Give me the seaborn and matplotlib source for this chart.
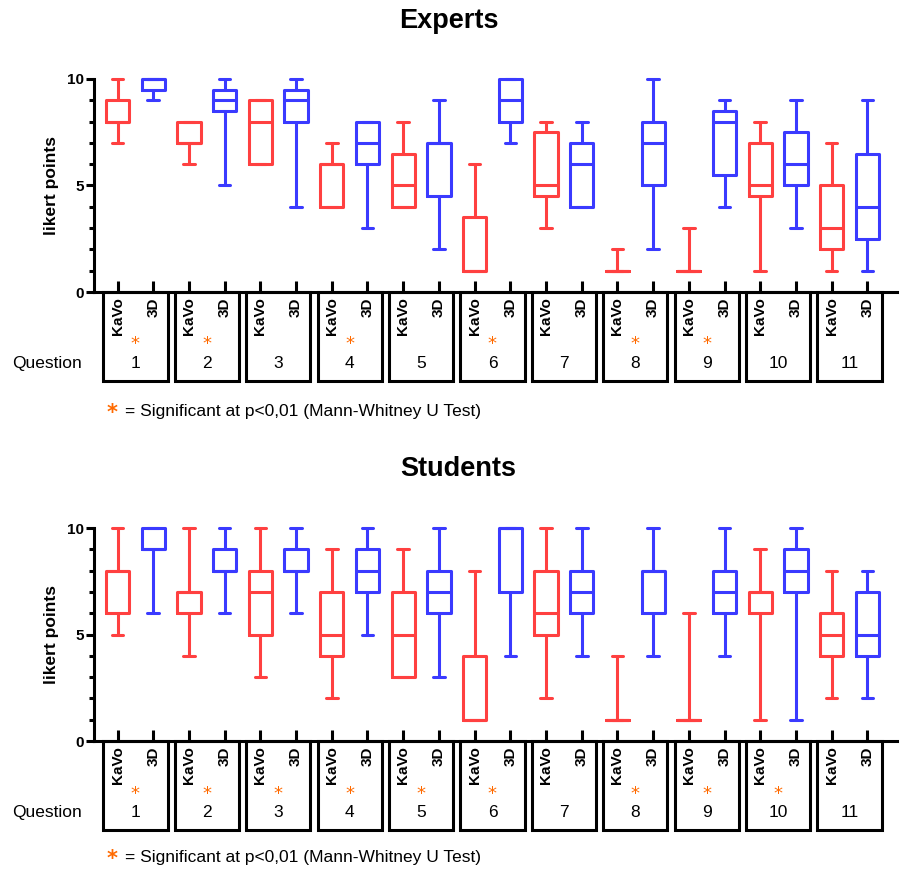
import numpy as np
import pandas as pd
import matplotlib
matplotlib.use("Agg")
import matplotlib.pyplot as plt
import seaborn as sns
from matplotlib.patches import Rectangle
from matplotlib import transforms
from matplotlib.ticker import MultipleLocator

# ---------------- data ----------------
questions = [str(i) for i in range(1, 12)]
groups = ["KaVo", "3D"]

# Experts
exp_kavo_min = [7, 6, 6, 4, 4, 1, 3, 1, 1, 1, 1]
exp_kavo_q1 = [8, 7, 6, 4, 4, 1, 4.5, 1, 1, 4.5, 2]
exp_kavo_med = [8, 7, 8, 6, 5, 1, 5, 1, 1, 5, 3]
exp_kavo_q3 = [9, 8, 9, 6, 6.5, 3.5, 7.5, 1, 1, 7, 5]
exp_kavo_max = [10, 8, 9, 7, 8, 6, 8, 2, 3, 8, 7]
exp_3d_min = [9, 5, 4, 3, 2, 7, 4, 2, 4, 3, 1]
exp_3d_q1 = [9.5, 8.5, 8, 6, 4.5, 8, 4, 5, 5.5, 5, 2.5]
exp_3d_med = [10, 9, 9, 7, 7, 9, 6, 7, 8, 6, 4]
exp_3d_q3 = [10, 9.5, 9.5, 8, 7, 10, 7, 8, 8.5, 7.5, 6.5]
exp_3d_max = [10, 10, 10, 8, 9, 10, 8, 10, 9, 9, 9]
exp_signif = [1, 1, 0, 1, 0, 1, 0, 1, 1, 0, 0]

# Students
stu_kavo_min = [5, 4, 3, 2, 3, 1, 2, 1, 1, 1, 2]
stu_kavo_q1 = [6, 6, 5, 4, 3, 1, 5, 1, 1, 6, 4]
stu_kavo_med = [8, 7, 7, 5, 5, 1, 6, 1, 1, 7, 5]
stu_kavo_q3 = [8, 7, 8, 7, 7, 4, 8, 1, 1, 7, 6]
stu_kavo_max = [10, 10, 10, 9, 9, 8, 10, 4, 6, 9, 8]
stu_3d_min = [6, 6, 6, 5, 3, 4, 4, 4, 4, 1, 2]
stu_3d_q1 = [9, 8, 8, 7, 6, 7, 6, 6, 6, 7, 4]
stu_3d_med = [9, 8, 8, 8, 7, 10, 7, 8, 7, 8, 5]
stu_3d_q3 = [10, 9, 9, 9, 8, 10, 8, 8, 8, 9, 7]
stu_3d_max = [10, 10, 10, 10, 10, 10, 10, 10, 10, 10, 8]
stu_signif = [1, 1, 1, 1, 1, 1, 0, 1, 1, 1, 0]

yticks = [0, 5, 10]
legend_text = "= Significant at p<0,01 (Mann-Whitney U Test)"

RED = "#FF4040"
BLUE = "#3A3AFF"
ORANGE = "#FF6A00"

sns.set_style("ticks")
plt.rcParams["font.family"] = ["Liberation Sans", "DejaVu Sans"]
for key in ("text.color", "axes.labelcolor", "xtick.color", "ytick.color", "axes.edgecolor"):
    plt.rcParams[key] = "black"


def build_frame(kmin, kq1, kmed, kq3, kmax, dmin, dq1, dmed, dq3, dmax):
    rows = []
    for i, q in enumerate(questions):
        for g, stats in (("KaVo", (kmin, kq1, kmed, kq3, kmax)),
                         ("3D", (dmin, dq1, dmed, dq3, dmax))):
            for s in stats:
                rows.append({"pos": f"{q}-{g}", "group": g, "value": s[i]})
    return pd.DataFrame(rows)


order = [f"{q}-{g}" for q in questions for g in groups]

W, H = 901, 871
fig = plt.figure(figsize=(W / 100, H / 100), dpi=100)

panels = [
    ("Experts", build_frame(exp_kavo_min, exp_kavo_q1, exp_kavo_med, exp_kavo_q3, exp_kavo_max,
                            exp_3d_min, exp_3d_q1, exp_3d_med, exp_3d_q3, exp_3d_max),
     exp_signif, 79, 292, 449, 28, 411),
    ("Students", build_frame(stu_kavo_min, stu_kavo_q1, stu_kavo_med, stu_kavo_q3, stu_kavo_max,
                             stu_3d_min, stu_3d_q1, stu_3d_med, stu_3d_q3, stu_3d_max),
     stu_signif, 528, 741, 458, 476, 857),
]

ax_left, ax_right = 94, 897
LW = 2.2

for title, df, signif, top_px, bot_px, title_x, title_base, legend_px in panels:
    ax_h = bot_px - top_px
    ax = fig.add_axes([ax_left / W, 1 - bot_px / H, (ax_right - ax_left) / W, ax_h / H])
    sns.boxplot(data=df, x="pos", y="value", hue="group", order=order, hue_order=groups,
                palette={"KaVo": RED, "3D": BLUE}, dodge=False, fill=False, width=0.65,
                whis=(0, 100), linewidth=LW, legend=False, ax=ax)
    for art in list(ax.lines) + list(ax.patches):
        art.set_clip_on(False)
    ax.set_xlim(-0.66, 21.83)
    ax.set_ylim(0, 10)
    ax.set_yticks(yticks)
    ax.yaxis.set_minor_locator(MultipleLocator(1))
    ax.set_yticklabels([str(t) for t in yticks], fontweight="bold", fontsize=11)
    ax.set_xticks(range(len(order)))
    ax.set_xticklabels([g for q in questions for g in groups], rotation=90,
                       fontweight="bold", fontsize=11, va="top")
    ax.tick_params(axis="x", direction="in", length=8, width=LW, pad=4, color="black")
    ax.tick_params(axis="y", which="major", direction="out", length=6, width=LW, pad=1, color="black")
    ax.tick_params(axis="y", which="minor", direction="out", length=3.5, width=LW, color="black")
    for sp in ("top", "right"):
        ax.spines[sp].set_visible(False)
    for sp in ("left", "bottom"):
        ax.spines[sp].set_linewidth(LW)
        ax.spines[sp].set_color("black")
    ax.set_xlabel("")
    ax.set_ylabel("likert points", fontweight="bold", fontsize=12.5, labelpad=6)

    trans = transforms.blended_transform_factory(ax.transData, ax.transAxes)
    box_h = 89 / ax_h
    for i, q in enumerate(questions):
        c = 2 * i + 0.5
        ax.add_patch(Rectangle((c - 0.9, -box_h), 1.8, box_h, transform=trans,
                               fill=False, edgecolor="black", linewidth=LW, clip_on=False))
        if signif[i]:
            ax.text(c, -57.5 / ax_h, "*", transform=trans, ha="center", va="baseline",
                    color=ORANGE, fontsize=13, family="DejaVu Sans")
        ax.text(c, -76 / ax_h, q, transform=trans, ha="center", va="baseline", fontsize=12.5)

    fig.text(46.7 / W, 1 - (bot_px + 76) / H, "Question", ha="center", va="baseline", fontsize=12.5)
    fig.text(title_x / W, 1 - title_base / H, title, ha="center", va="baseline",
             fontsize=19.5, fontweight="bold")
    fig.text(112 / W, 1 - (legend_px + 2) / H, "*", ha="center", va="center",
             color=ORANGE, fontsize=15, fontweight="bold", family="DejaVu Sans")
    fig.text(125 / W, 1 - legend_px / H, legend_text, ha="left", va="center", fontsize=12.5)

fig.savefig("out.png", dpi=100)
